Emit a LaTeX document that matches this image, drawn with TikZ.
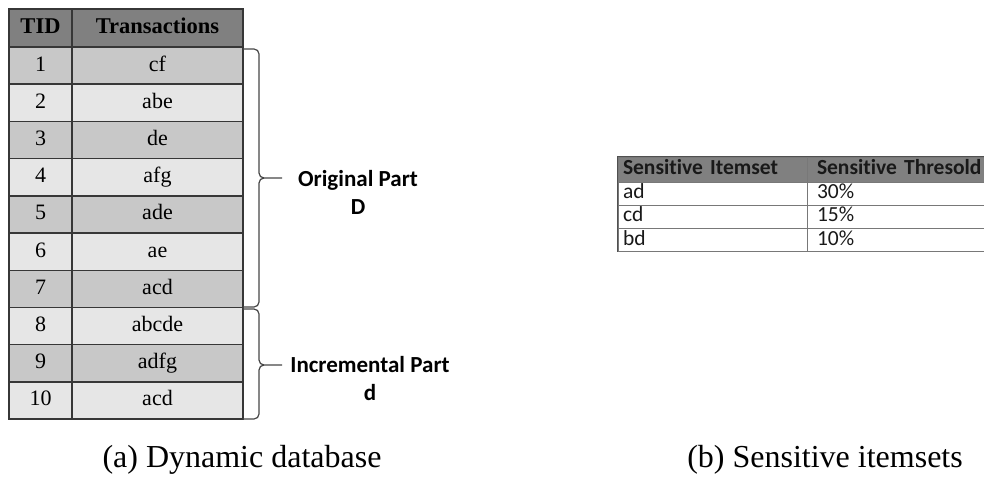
\documentclass[tikz,border=0pt]{standalone}
\usepackage{fontspec}
\setmainfont{Liberation Serif}
\newfontfamily\calib[Ligatures=NoCommon]{Carlito}
\definecolor{hdgray}{RGB}{128,128,128}
\definecolor{rowdark}{RGB}{200,200,200}
\definecolor{rowlight}{RGB}{230,230,230}
\definecolor{tline}{RGB}{55,55,55}
\definecolor{sline}{RGB}{120,120,120}
\definecolor{souter}{RGB}{80,80,80}
\definecolor{braceline}{RGB}{70,70,70}
\definecolor{stext}{RGB}{25,25,25}
\begin{document}
\begin{tikzpicture}[x=1pt,y=-1pt,
  tcell/.style={draw=tline, line width=1.4pt, inner sep=0pt, minimum height=37.2pt,
    text height=15pt, text depth=4pt, font=\fontsize{22}{24}\selectfont},
  thead/.style={tcell, fill=hdgray, minimum height=38pt, font=\fontsize{22.5}{24}\selectfont\bfseries},
  colid/.style={minimum width=63pt},
  coltr/.style={minimum width=171pt},
  brace/.style={draw=braceline, line width=1.2pt},
  partlabel/.style={font=\calib\bfseries\fontsize{23}{28}\selectfont, align=center, inner sep=0pt},
  scell/.style={draw=sline, line width=1pt, inner ysep=0pt, minimum height=23.3pt, align=left,
    text=stext, font=\calib\fontsize{21.5}{24}\selectfont, text height=14pt, text depth=4pt},
  shead/.style={scell, fill=hdgray, minimum height=25pt, font=\calib\bfseries\fontsize{21.5}{24}\selectfont},
  scolA/.style={minimum width=189pt, text width=179pt, inner xsep=5pt},
  scolB/.style={minimum width=200pt, text width=180pt, inner xsep=10pt},
  caption/.style={font=\fontsize{32}{35}\selectfont, inner sep=0pt}
]
\clip (0,0) rectangle (984,484);

% dynamic database: header
\node[thead, colid] (hid) at (40.5,28) {TID};
\node[thead, coltr] (htr) at (157.5,28) {Transactions};

% dynamic database: transactions
\foreach \i/\t/\f in {1/cf/rowdark, 2/abe/rowlight, 3/de/rowdark, 4/afg/rowlight,
    5/ade/rowdark, 6/ae/rowlight, 7/acd/rowdark, 8/abcde/rowlight,
    9/adfg/rowdark, 10/acd/rowlight} {
  \node[tcell, colid, fill=\f] (id\i) at (40.5, {47+37.2*(\i-0.5)}) {\i};
  \node[tcell, coltr, fill=\f] (tr\i) at (157.5, {47+37.2*(\i-0.5)}) {\t};
}

% brace ends and tips
\coordinate (otop) at (243,49);
\coordinate (obot) at (243,307);
\coordinate (otip) at (282,178);
\coordinate (itop) at (243,309);
\coordinate (ibot) at (243,419);
\coordinate (itip) at (282,365);

% original part brace
\draw[brace] (otop) -- (254,49) to[out=0,in=90] (259,54) -- (259,173)
  to[out=-90,in=180] (264,178) -- (otip);
\draw[brace] (obot) -- (254,307) to[out=0,in=-90] (259,302) -- (259,183)
  to[out=90,in=180] (264,178);
% incremental part brace
\draw[brace] (itop) -- (254,309) to[out=0,in=90] (259,314) -- (259,360)
  to[out=-90,in=180] (264,365) -- (itip);
\draw[brace] (ibot) -- (254,419) to[out=0,in=-90] (259,414) -- (259,370)
  to[out=90,in=180] (264,365);

\node[partlabel] (orig) at (358,192) {Original Part\\D};
\node[partlabel] (incr) at (370,379) {Incremental Part\\d};

% sensitive itemsets table
\node[shead, scolA] (sh1) at (712.5,169.5) {Sensitive Itemset};
\node[shead, scolB] (sh2) at (907,169.5) {Sensitive Thresold};
\foreach \i/\s/\p in {1/ad/30\%, 2/cd/15\%, 3/bd/10\%} {
  \node[scell, scolA] (si\i) at (712.5, {182+23.3*(\i-0.5)}) {\s};
  \node[scell, scolB] (sp\i) at (907, {182+23.3*(\i-0.5)}) {\p};
}
% darker outer frame of the itemset table
\draw[souter, line width=1.2pt] (sh1.north east -| sh2.east) -- (sh1.north west) -- (si3.south west);

% captions
\node[caption] (capa) at (242,460) {(a) Dynamic database};
\node[caption] (capb) at (825,460) {(b) Sensitive itemsets};
\end{tikzpicture}
\end{document}
